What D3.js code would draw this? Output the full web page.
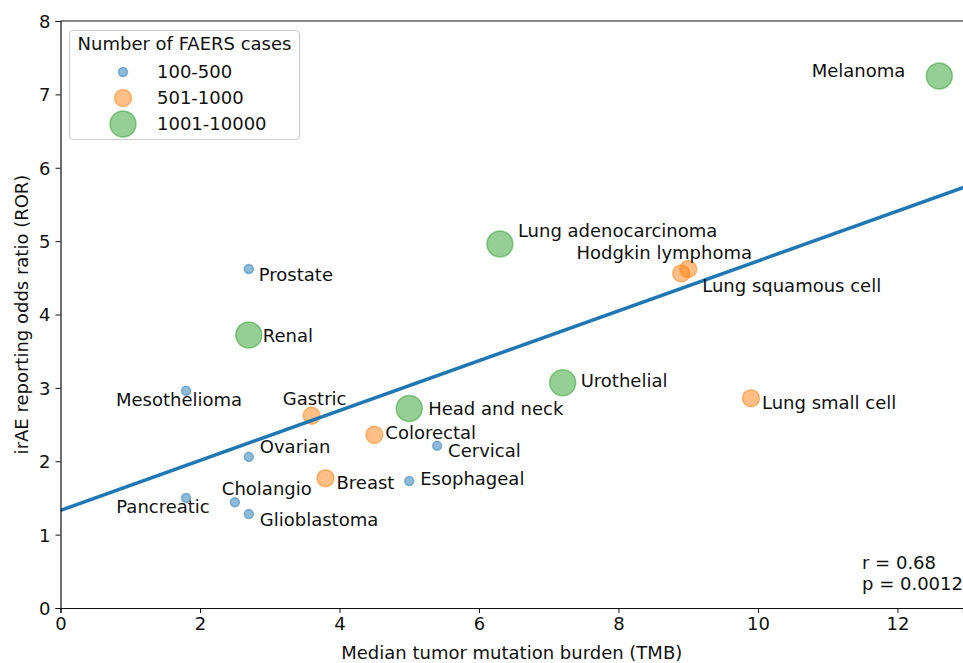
<!DOCTYPE html>
<html>
<head>
<meta charset="utf-8">
<script src="https://cdn.jsdelivr.net/npm/d3@7/dist/d3.min.js"></script>
<style>
  html, body { margin: 0; padding: 0; background: #fff; }
  svg { display: block; }
  text { font-family: "DejaVu Sans", sans-serif; fill: #111; }
</style>
</head>
<body>
<svg id="chart" width="963" height="663"></svg>
<script>
// ---------- data ----------
const cancers = ["Melanoma", "Lung adenocarcinoma", "Hodgkin lymphoma", "Lung squamous cell",
  "Prostate", "Renal", "Mesothelioma", "Gastric", "Head and neck", "Urothelial",
  "Lung small cell", "Colorectal", "Cervical", "Ovarian", "Breast", "Esophageal",
  "Cholangio", "Pancreatic", "Glioblastoma"];
const tmb = [12.6, 6.3, 9.0, 8.9, 2.7, 2.7, 1.8, 3.6, 5.0, 7.2,
  9.9, 4.5, 5.4, 2.7, 3.8, 5.0, 2.5, 1.8, 2.7];
const ror = [7.25, 4.96, 4.62, 4.56, 4.62, 3.72, 2.96, 2.62, 2.72, 3.07,
  2.86, 2.36, 2.21, 2.06, 1.77, 1.73, 1.44, 1.50, 1.28];
const caseGroup = ["1001-10000", "1001-10000", "501-1000", "501-1000",
  "100-500", "1001-10000", "100-500", "501-1000", "1001-10000", "1001-10000",
  "501-1000", "501-1000", "100-500", "100-500", "501-1000", "100-500",
  "100-500", "100-500", "100-500"];
const legendGroups = ["100-500", "501-1000", "1001-10000"];
const xTicks = [0, 2, 4, 6, 8, 10, 12];
const yTicks = [0, 1, 2, 3, 4, 5, 6, 7, 8];
const fitIntercept = 1.33;
const fitSlope = 0.34;
const statLines = ["r = 0.68", "p = 0.0012"];

// ---------- label layout (anchor, dx, dy in px), same order as cancers ----------
const labelAnchor = ["end", "start", "middle", "start", "start", "start", "middle", "middle", "start", "start",
  "start", "start", "start", "start", "start", "start", "start", "middle", "start"];
const labelDx = [-34, 18, -24, 21, 10, 14, -7, 3, 19, 18, 11, 11, 11, 11, 11, 11, -13, -23, 11];
const labelDy = [1, -7, -10, 19, 12, 7, 15, -11, 7, 4, 11, 4, 11, -4, 11, 4, -7, 15, 12];

const points = cancers.map((nm, i) => ({ nm: nm, tx: tmb[i], ry: ror[i], g: caseGroup[i], idx: i }));

// ---------- layout ----------
const svg = d3.select("#chart");
const mLeft = 60.5, mRight = 963, mTop = 21, mBottom = 608;
const x = d3.scaleLinear().domain([0, 12.94]).range([mLeft, mRight]);
const y = d3.scaleLinear().domain([0, 8]).range([mBottom, mTop]);
const color = d3.scaleOrdinal().domain(legendGroups).range(["#1f77b4", "#ff7f0e", "#2ca02c"]);
const radius = d3.scaleOrdinal().domain(legendGroups).range([4.5, 8.5, 13]);

svg.append("defs").append("clipPath").attr("id", "plotclip")
  .append("rect").attr("x", mLeft).attr("y", mTop).attr("width", mRight - mLeft).attr("height", mBottom - mTop);

// points
const plot = svg.append("g").attr("clip-path", "url(#plotclip)");
plot.selectAll("circle.pt").data(points).enter().append("circle")
  .attr("class", "pt")
  .attr("cx", d => x(d.tx)).attr("cy", d => y(d.ry))
  .attr("r", d => radius(d.g))
  .attr("fill", d => color(d.g)).attr("fill-opacity", 0.5)
  .attr("stroke", d => color(d.g)).attr("stroke-opacity", 0.5).attr("stroke-width", 1.5);

// regression line
const xEnd = x.domain()[1] + 0.5;
plot.append("path")
  .datum([0, xEnd])
  .attr("d", d3.line().x(v => x(v)).y(v => y(fitIntercept + fitSlope * v)))
  .attr("stroke", "#1f77b4").attr("stroke-width", 3.5).attr("fill", "none");

// labels
svg.append("g").attr("class", "labels").selectAll("text").data(points).enter().append("text")
  .attr("x", d => x(d.tx) + labelDx[d.idx])
  .attr("y", d => y(d.ry) + labelDy[d.idx])
  .attr("text-anchor", d => labelAnchor[d.idx])
  .attr("font-size", 18)
  .text(d => d.nm);

// axes
const xAxis = svg.append("g").attr("transform", `translate(0,${mBottom})`)
  .call(d3.axisBottom(x).tickValues(xTicks).tickFormat(d3.format("d")).tickSizeOuter(0).tickSize(5).tickPadding(4));
const yAxis = svg.append("g").attr("transform", `translate(${mLeft},0)`)
  .call(d3.axisLeft(y).tickValues(yTicks).tickFormat(d3.format("d")).tickSizeOuter(0).tickSize(5).tickPadding(5));
[xAxis, yAxis].forEach(a => {
  a.selectAll("text").attr("font-size", 18).attr("font-family", "DejaVu Sans").attr("fill", "#111");
  a.selectAll("line").attr("stroke", "#111").attr("stroke-width", 1);
  a.select(".domain").attr("stroke", "#111").attr("stroke-width", 1.2);
});
yAxis.selectAll(".tick text").attr("dy", "0.36em");
// top spine
svg.append("line").attr("x1", mLeft).attr("x2", mRight).attr("y1", mTop).attr("y2", mTop)
  .attr("stroke", "#111").attr("stroke-width", 1.2);

// axis titles
svg.append("text").attr("x", (mLeft + mRight) / 2).attr("y", 659)
  .attr("text-anchor", "middle").attr("font-size", 18)
  .text("Median tumor mutation burden (TMB)");
svg.append("text").attr("transform", `translate(28,${(mTop + mBottom) / 2}) rotate(-90)`)
  .attr("text-anchor", "middle").attr("font-size", 18)
  .text("irAE reporting odds ratio (ROR)");

// stats text
svg.append("g").selectAll("text").data(statLines).enter().append("text")
  .attr("x", 862).attr("y", (d, i) => 569 + i * 21)
  .attr("font-size", 18).text(d => d);

// legend
const lg = svg.append("g");
lg.append("rect").attr("x", 69.5).attr("y", 30.5).attr("width", 230).attr("height", 109)
  .attr("rx", 4).attr("fill", "#fff").attr("fill-opacity", 0.8)
  .attr("stroke", "#ccc").attr("stroke-width", 1.2);
lg.append("text").attr("x", 184.5).attr("y", 50).attr("text-anchor", "middle")
  .attr("font-size", 18).text("Number of FAERS cases");
const items = lg.selectAll("g.item").data(legendGroups).enter().append("g")
  .attr("class", "item").attr("transform", (d, i) => `translate(123,${72 + i * 26})`);
items.append("circle").attr("r", d => radius(d))
  .attr("fill", d => color(d)).attr("fill-opacity", 0.5)
  .attr("stroke", d => color(d)).attr("stroke-opacity", 0.5).attr("stroke-width", 1.5);
items.append("text").attr("x", 34).attr("y", 5.5).attr("font-size", 18).text(d => d);
</script>
</body>
</html>
